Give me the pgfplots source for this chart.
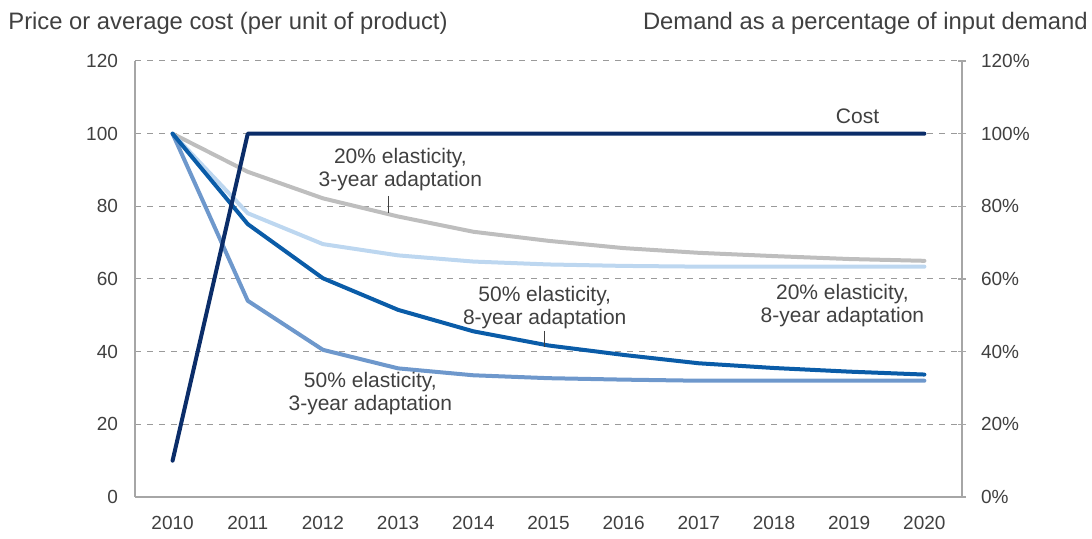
\documentclass[border=0pt]{standalone}
\usepackage{pgfplots}
\pgfplotsset{compat=1.18}
\usepackage{fontspec}
\setmainfont{Liberation Sans}
\definecolor{txt}{HTML}{404040}
\definecolor{axisgray}{HTML}{A6A6A6}
\definecolor{gridgray}{HTML}{9A9A9A}
\definecolor{costnavy}{HTML}{0B2D69}
\definecolor{lgray}{HTML}{BEBEBE}
\definecolor{lblue}{HTML}{BDD7F0}
\definecolor{dblue}{HTML}{0A5CA8}
\definecolor{mblue}{HTML}{6E98CC}

\begin{document}
\begin{tikzpicture}
\useasboundingbox (-67.5pt,-21pt) rectangle (478.5pt,248.5pt);
\begin{axis}[
  at={(0,0)}, anchor=south west,
  scale only axis, width=413.5pt, height=218pt,
  xmin=2009.5, xmax=2020.5, ymin=0, ymax=120,
  axis x line*=bottom, axis y line*=left,
  axis line style={draw=axisgray, line width=0.7pt, -},
  xtick={2010,...,2020}, ytick={0,20,...,120},
  major tick length=0pt,
  ymajorgrids, grid style={dashed, gridgray, line width=0.5pt},
  tick label style={font=\fontsize{9.5}{11}\selectfont, text=txt},
  /pgf/number format/1000 sep={},
  /pgf/number format/assume math mode=true,
  xticklabel style={yshift=-6pt}, yticklabel style={xshift=-5pt},
  clip=false,
  every axis plot/.append style={line width=2pt, line join=round, line cap=round},
]
\addplot[lgray] coordinates {(2010,100)(2011,89.5)(2012,82.2)(2013,77.2)(2014,73)(2015,70.5)(2016,68.5)(2017,67.2)(2018,66.3)(2019,65.5)(2020,65)};
\addplot[lblue] coordinates {(2010,100)(2011,78.1)(2012,69.6)(2013,66.5)(2014,64.8)(2015,64)(2016,63.6)(2017,63.4)(2018,63.4)(2019,63.4)(2020,63.4)};
\addplot[mblue] coordinates {(2010,100)(2011,54)(2012,40.5)(2013,35.4)(2014,33.5)(2015,32.7)(2016,32.3)(2017,32)(2018,32)(2019,32)(2020,32)};
\addplot[dblue] coordinates {(2010,100)(2011,75.1)(2012,60.2)(2013,51.5)(2014,45.6)(2015,41.7)(2016,39.1)(2017,36.8)(2018,35.5)(2019,34.5)(2020,33.7)};
\addplot[costnavy] coordinates {(2010,10)(2011,100)(2012,100)(2013,100)(2014,100)(2015,100)(2016,100)(2017,100)(2018,100)(2019,100)(2020,100)};

\node[txt, font=\fontsize{10.5}{11}\selectfont] at (axis cs:2019.11,104.9) {Cost};
\node[txt, align=center, font=\fontsize{10.5}{11.5}\selectfont] at (axis cs:2013.03,90) {20\% elasticity,\\3-year adaptation};
\draw[txt, line width=0.6pt] (axis cs:2012.87,82.9) -- (axis cs:2012.87,78.2);
\node[txt, align=center, font=\fontsize{10.5}{11.5}\selectfont] at (axis cs:2014.95,52) {50\% elasticity,\\8-year adaptation};
\draw[txt, line width=0.6pt] (axis cs:2014.95,45.7) -- (axis cs:2014.95,41.4);
\node[txt, align=center, font=\fontsize{10.5}{11.5}\selectfont] at (axis cs:2018.91,52.7) {20\% elasticity,\\8-year adaptation};
\node[txt, align=center, font=\fontsize{10.5}{11.5}\selectfont] at (axis cs:2012.63,28.5) {50\% elasticity,\\3-year adaptation};
\end{axis}
\begin{axis}[
  at={(0,0)}, anchor=south west,
  scale only axis, width=413.5pt, height=218pt,
  xmin=2009.5, xmax=2020.5, ymin=0, ymax=120,
  axis x line=none, axis y line*=right,
  axis line style={draw=axisgray, line width=0.7pt, -},
  ytick={0,20,...,120},
  yticklabel={\pgfmathprintnumber{\tick}\%},
  major tick length=4pt, tick align=center,
  tick style={axisgray, line width=0.7pt},
  tick label style={font=\fontsize{9.5}{11}\selectfont, text=txt},
  /pgf/number format/assume math mode=true,
  yticklabel style={xshift=4pt},
]
\addplot[draw=none] coordinates {(2010,0)};
\end{axis}
\node[txt, inner sep=0pt, anchor=base west, font=\fontsize{11.9}{13}\selectfont] at (-63.5pt,233.5pt) {Price or average cost (per unit of product)};
\node[txt, inner sep=0pt, anchor=base east, font=\fontsize{11.9}{13}\selectfont] at (476.5pt,233.5pt) {Demand as a percentage of input demand};
\end{tikzpicture}
\end{document}
